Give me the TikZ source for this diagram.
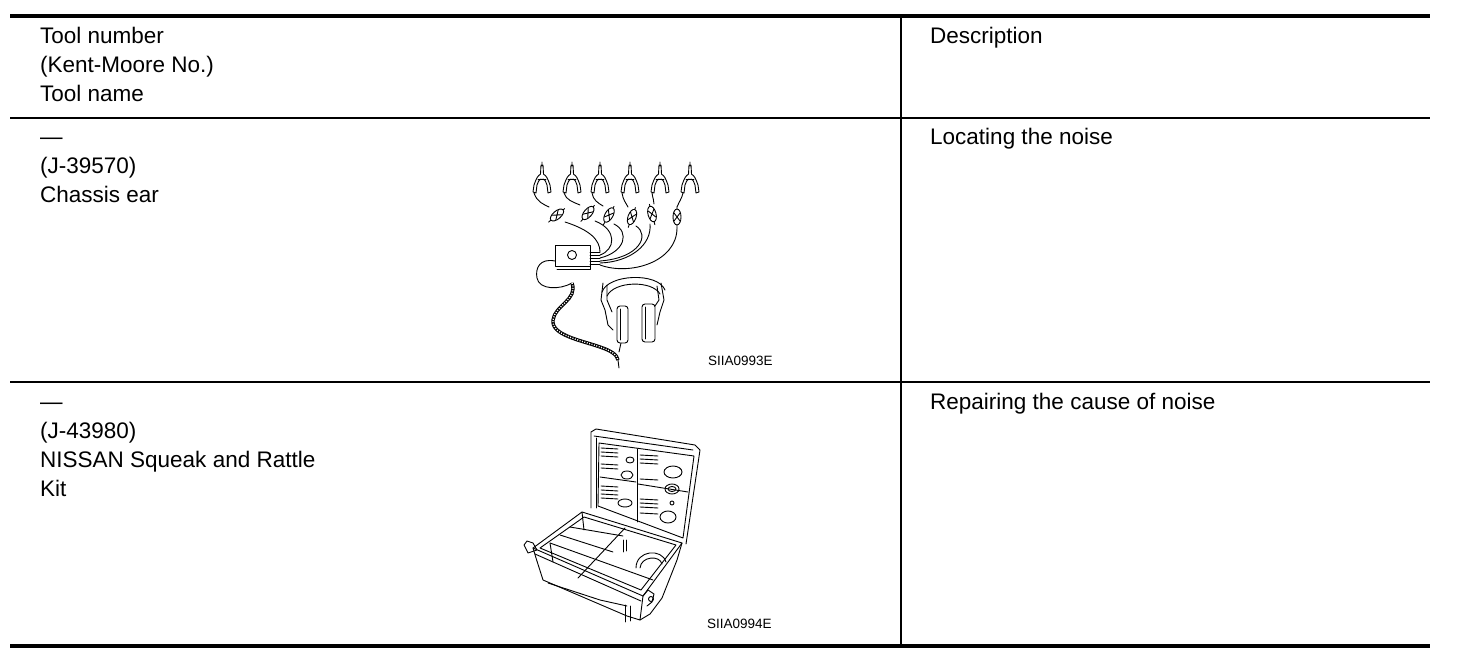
\documentclass[tikz,border=0pt]{standalone}
\usepackage{fontspec}
\setmainfont{Liberation Sans}
\begin{document}
\begin{tikzpicture}[x=1pt,y=-1pt,
  txt/.style={anchor=base west, inner sep=0pt, font=\fontsize{22.5}{27}\selectfont},
  lbl/.style={anchor=base west, inner sep=0pt, font=\fontsize{13.5}{16}\selectfont},
  rulethick/.style={line width=4pt},
  rulethin/.style={line width=1.5pt},
  art/.style={line width=0.9pt, line join=round, line cap=round},
  gatorclip/.pic={
    \draw[art] (-1,0) -- (-1.5,9) (1,0) -- (1.5,9) (0,-3) -- (0,1);
    \draw[art] (-1.5,9) .. controls (-5,12) .. (-8,20) -- (-9,27) -- (-6,28) -- (-5,20) .. controls (-3,15) .. (-1,14);
    \draw[art] (1.5,9) .. controls (5,12) .. (8,20) -- (9,27) -- (6,28) -- (5,20) .. controls (3,15) .. (1,14);
    \draw[art] (-4,14) -- (4,14);
  },
  plug/.pic={
    \draw[art] (0,0) ellipse (4 and 8);
    \draw[art] (-3,-4) -- (3,4) (3,-4) -- (-3,4) (0,-8) -- (0,-10) (0,8) -- (0,11);
  }]
\useasboundingbox (0,0) rectangle (1472,668);

% ---------- table rules ----------
\draw[rulethick] (10,16.5) -- (1430,16.5);
\draw[rulethin] (10,118) -- (1430,118);
\draw[rulethin] (10,382) -- (1430,382);
\draw[rulethick] (10,645.5) -- (1430,645.5);
\draw[line width=1.7pt] (901,16.5) -- (901,645.5);

% ---------- texts ----------
\node[txt] (h1) at (40,44) {Tool number};
\node[txt] (h2) at (40,73) {(Kent-Moore No.)};
\node[txt] (h3) at (40,102) {Tool name};
\node[txt] (hd) at (930,44) {Description};

\node[txt] (a1) at (40,145) {—};
\node[txt] (a2) at (40,174) {(J-39570)};
\node[txt] (a3) at (40,203) {Chassis ear};
\node[txt] (ad) at (930,145) {Locating the noise};

\node[txt] (b1) at (40,409) {—};
\node[txt] (b2) at (40,438) {(J-43980)};
\node[txt] (b3) at (40,467) {NISSAN Squeak and Rattle};
\node[txt] (b4) at (40,496) {Kit};
\node[txt] (bd) at (930,409) {Repairing the cause of noise};

\node[lbl] (l1) at (708,365) {SIIA0993E};
\node[lbl] (l2) at (707,628) {SIIA0994E};

% ---------- chassis ear ----------
\foreach \cx in {542,572,600,630,660,690}
  \pic at (\cx,165) {gatorclip};
\pic[rotate=-50] at (557,215) {plug};
\pic[rotate=-40] at (588,213) {plug};
\pic[rotate=-30] at (609,215) {plug};
\pic[rotate=-20] at (632,217) {plug};
\pic[rotate=15] at (652,214) {plug};
\pic at (677,217) {plug};
% clip to plug wires
\draw[art] (534,193) .. controls (537,202) and (543,204) .. (549,207);
\draw[art] (564,193) .. controls (566,200) and (573,202) .. (580,205);
\draw[art] (592,193) .. controls (593,200) and (598,203) .. (603,206);
\draw[art] (622,193) .. controls (623,200) and (626,203) .. (628,207);
\draw[art] (652,193) .. controls (653,199) and (654,201) .. (654,204);
\draw[art] (683,193) .. controls (682,198) and (679,202) .. (677,207);
% plug to box wires
\draw[art] (565,222) .. controls (590,230) and (600,240) .. (600,252);
\draw[art] (595,221) .. controls (618,230) and (615,250) .. (600,255);
\draw[art] (614,224) .. controls (630,232) and (625,252) .. (600,258);
\draw[art] (636,226) .. controls (650,235) and (640,258) .. (600,261);
\draw[art] (650,224) .. controls (652,245) and (630,262) .. (600,263);
\draw[art] (677,228) .. controls (677,262) and (630,276) .. (600,265);
% box
\draw[art] (555,245) rectangle (590,266);
\draw[art] (557,269) -- (590,269) -- (590,266);
\draw[art] (572,255) circle (4.5);
\foreach \yy in {252,255,258,261,264}
  \draw[art] (590,\yy) -- (600,\yy);
% cable
\draw[art] (555,261) .. controls (540,258) and (535,268) .. (537,278) .. controls (539,290) and (560,290) .. (572,283);
\draw[line width=3.4pt] (572,283) .. controls (578,300) and (555,305) .. (553,320) .. controls (551,335) and (580,340) .. (600,347) .. controls (612,351) and (617,355) .. (618,360);
\draw[line width=1.4pt, white, dash pattern=on 1pt off 1.5pt] (572,283) .. controls (578,300) and (555,305) .. (553,320) .. controls (551,335) and (580,340) .. (600,347) .. controls (612,351) and (617,355) .. (618,360);
\draw[art] (618,360) -- (619,368);
% headphones
\draw[art] (602,292) .. controls (608,274) and (658,272) .. (665,290);
\draw[art] (607,296) .. controls (614,281) and (652,280) .. (660,294);
\draw[art] (603,283) -- (601,300) -- (605,310) -- (608,325) -- (613,330);
\draw[art] (607,285) -- (607,300) -- (612,312);
\draw[art, rounded corners=3pt] (617,306) rectangle (628,343);
\draw[art] (620,309) -- (620,340);
\draw[art, rounded corners=3pt] (642,304) rectangle (655,342);
\draw[art] (645,307) -- (645,339);
\draw[art] (661,283) -- (664,300) -- (660,312) -- (657,325);
\draw[art] (657,286) -- (659,300) -- (655,306);
\draw[art] (621,343) -- (619,352);

% ---------- squeak and rattle kit ----------
% lid
\draw[art] (591,508) -- (591,432) -- (596,429) -- (695,445) -- (700,450) -- (686,544);
\draw[art] (594,436) -- (693,450);
\draw[art] (596,438) -- (596,508);
\draw[art] (599,443) -- (694,456) -- (683,538) -- (598,506) -- cycle;
\draw[art] (637,449) -- (637,522);
\draw[art] (600,477) -- (636,482);
\draw[art] (638,484) -- (688,492);
\foreach \yy in {448,452,456,464,468,486,490,494,498}
  \draw[art] (601,\yy) -- (618,\yy+1);
\foreach \yy in {455,459,463,479,499,503,507,513}
  \draw[art] (640,\yy) -- (658,\yy+1);
\draw[art] (630,460) ellipse (4 and 3);
\draw[art] (627,475) ellipse (6 and 4);
\draw[art] (673,472) ellipse (9 and 6);
\draw[art] (672,489) ellipse (7 and 5);
\draw[art] (672,489) ellipse (4 and 2.5);
\draw[art] (625,503) ellipse (7 and 4);
\draw[art] (668,517) ellipse (8 and 6);
\draw[art] (672,503) circle (2);
% base rim
\draw[art] (533,548) -- (582,512) -- (682,543) -- (643,596) -- cycle;
\draw[art] (540,548) -- (584,517) -- (676,545) -- (641,590) -- cycle;
% body
\draw[art] (533,548) -- (536,558) -- (543,580) -- (627,616) -- (640,620) -- (643,596);
\draw[art] (535,554) -- (641,601);
\draw[art] (682,543) -- (677,560) -- (662,598) -- (650,614) -- (640,620);
\draw[art] (548,583) -- (600,600) -- (627,606);
% compartments
\draw[art] (550,543) -- (653,580);
\draw[art] (560,535) -- (613,552);
\draw[art] (570,527) -- (623,536);
\draw[art] (625,528) -- (578,578);
\draw[art] (550,543) -- (553,562);
\draw[art] (582,512) -- (584,530);
\draw[art] (623,540) -- (623,552) (626,540) -- (626,551);
\draw[art] (636,568) .. controls (636,550) and (662,548) .. (666,562);
\draw[art] (640,568) .. controls (641,556) and (660,555) .. (662,564);
% handle and latch
\draw[art] (524,545) -- (527,541) -- (533,543) -- (537,550) -- (528,553) -- cycle;
\draw[art] (643,596) -- (648,590) -- (654,594) -- (652,602) -- (647,606);
\draw[art] (651,599) circle (2.5);
\draw[art] (625,605) -- (625,622) (630,606) -- (630,621);
\end{tikzpicture}
\end{document}
